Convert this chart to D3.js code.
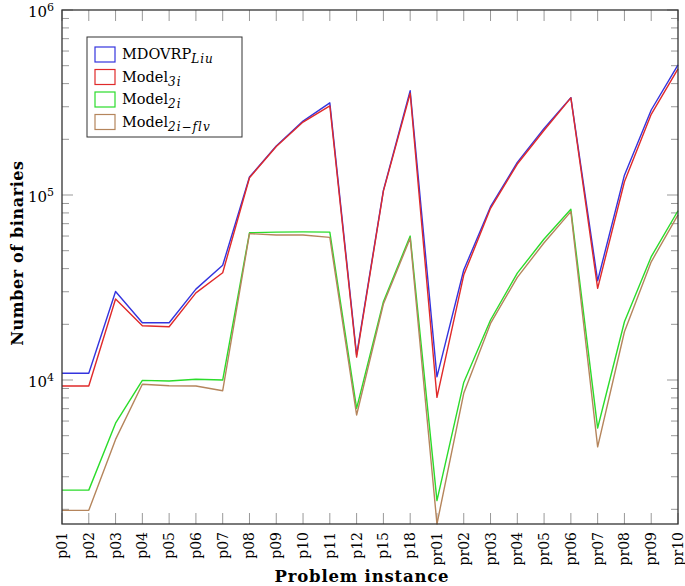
<!DOCTYPE html>
<meta charset="utf-8">
<html>
<head>
<title>Number of binaries</title>
<style>
  body { margin: 0; background: #fff; }
  text { font-family: 'DejaVu Serif', serif; fill: #000; }
  .tick line { stroke: #999; }
</style>
</head>
<body>
<div id="chart"></div>
<script src="https://cdn.jsdelivr.net/npm/d3@7"></script>
<script>

var instances = ["p01","p02","p03","p04","p05","p06","p07","p08","p09","p10","p11",
                 "p12","p15","p18","pr01","pr02","pr03","pr04","pr05","pr06","pr07","pr08","pr09","pr10"];

var mdovrpLiu = [10870,10870,30100,20400,20400,31000,41700,125000,184000,251000,315000,
                 13650,106000,366000,10400,39300,86500,150000,229000,336000,34400,128000,288000,505000];
var model3i   = [9280,9280,27400,19650,19400,29600,38000,124000,183000,248000,303000,
                 13300,105000,355000,8060,36900,84700,147000,224000,335000,31300,118000,273000,480000];
var model2i   = [2540,2540,5840,9960,9880,10090,10000,62500,63000,63200,63000,
                 7030,26500,60000,2230,9700,21100,37800,57800,83700,5500,20650,46400,82200];
var model2iFlv= [1975,1975,4775,9480,9315,9280,8750,61800,60800,60800,59000,
                 6470,25750,58400,1666,8470,20230,35900,55200,81300,4350,18230,43550,78000];

var seriesNames = ["MDOVRP", "Model", "Model", "Model"];
var seriesSubs  = ["Liu", "3i", "2i", "2i\u2212flv"];
var colors = ["#3434de", "#e02a2a", "#2bdc2b", "#b5855c"];

var width = 685, height = 586;
var margin = {left: 62, right: 7, top: 10, bottom: 62};

var svg = d3.select("#chart").append("svg")
    .attr("width", width)
    .attr("height", height);

var x = d3.scalePoint()
    .domain(instances)
    .range([margin.left, width - margin.right]);

var y = d3.scaleLog()
    .domain([1666, 1e6])
    .range([height - margin.bottom, margin.top]);

var x0 = margin.left, x1 = width - margin.right;
var y0 = height - margin.bottom, y1 = margin.top;

// ticks on all four sides, pointing inward
var majors = [1e4, 1e5, 1e6];
var minors = [];
[1e3, 1e4, 1e5].forEach(function (d) {
  for (var k = 2; k <= 9; k++) if (d * k >= 1666) minors.push(d * k);
});

var ticks = svg.append("g").attr("class", "tick");
ticks.selectAll(".xb").data(instances).enter().append("line")
    .attr("x1", function (d) { return x(d); }).attr("x2", function (d) { return x(d); })
    .attr("y1", y0).attr("y2", y0 - 11);
ticks.selectAll(".xt").data(instances).enter().append("line")
    .attr("x1", function (d) { return x(d); }).attr("x2", function (d) { return x(d); })
    .attr("y1", y1).attr("y2", y1 + 11);
ticks.selectAll(".yl").data(majors).enter().append("line")
    .attr("x1", x0).attr("x2", x0 + 11)
    .attr("y1", function (d) { return y(d); }).attr("y2", function (d) { return y(d); });
ticks.selectAll(".yr").data(majors).enter().append("line")
    .attr("x1", x1).attr("x2", x1 - 11)
    .attr("y1", function (d) { return y(d); }).attr("y2", function (d) { return y(d); });
ticks.selectAll(".ml").data(minors).enter().append("line")
    .attr("x1", x0).attr("x2", x0 + 7)
    .attr("y1", function (d) { return y(d); }).attr("y2", function (d) { return y(d); });
ticks.selectAll(".mr").data(minors).enter().append("line")
    .attr("x1", x1).attr("x2", x1 - 7)
    .attr("y1", function (d) { return y(d); }).attr("y2", function (d) { return y(d); });

// x tick labels, rotated
svg.selectAll(".xlab").data(instances).enter().append("text")
    .attr("transform", function (d) { return "translate(" + (x(d) + 5) + "," + (y0 + 8) + ") rotate(-90)"; })
    .attr("text-anchor", "end")
    .style("font-size", "14px")
    .text(function (d) { return d; });

// y tick labels 10^n
var ylab = svg.selectAll(".ylab").data(majors).enter().append("text")
    .attr("x", x0 - 8)
    .attr("y", function (d) { return y(d) + 7; })
    .attr("text-anchor", "end")
    .style("font-size", "15px");
ylab.append("tspan").text("10");
ylab.append("tspan")
    .attr("dy", -6)
    .style("font-size", "11px")
    .text(function (d) { return Math.round(Math.log10(d)); });

// lines
var line = d3.line()
    .x(function (d, i) { return x(instances[i]); })
    .y(function (d) { return y(d); });

var allSeries = [mdovrpLiu, model3i, model2i, model2iFlv];
svg.selectAll(".series").data(allSeries).enter().append("path")
    .attr("fill", "none")
    .attr("stroke", function (d, i) { return colors[i]; })
    .attr("stroke-width", 1.4)
    .attr("stroke-linejoin", "round")
    .attr("d", line);

// frame
svg.append("rect")
    .attr("x", x0).attr("y", y1)
    .attr("width", x1 - x0).attr("height", y0 - y1)
    .attr("fill", "none")
    .attr("stroke", "#333")
    .attr("stroke-width", 1.3);

// legend
var legend = svg.append("g").attr("transform", "translate(87,37)");
legend.append("rect")
    .attr("width", 155).attr("height", 100)
    .attr("fill", "#fff").attr("stroke", "#333").attr("stroke-width", 1);
var items = legend.selectAll(".item").data(seriesNames).enter().append("g")
    .attr("transform", function (d, i) { return "translate(8," + (10 + i * 22.5) + ")"; });
items.append("rect")
    .attr("width", 20).attr("height", 15)
    .attr("fill", "none")
    .attr("stroke", function (d, i) { return colors[i]; })
    .attr("stroke-width", 1.2);
var ltxt = items.append("text")
    .attr("x", 27).attr("y", 12)
    .style("font-size", "14.5px");
ltxt.append("tspan").text(function (d) { return d; });
ltxt.append("tspan")
    .attr("dy", 4)
    .style("font-size", "12px")
    .style("font-style", "italic")
    .style("letter-spacing", "1px")
    .text(function (d, i) { return seriesSubs[i]; });

// axis titles
svg.append("text")
    .attr("x", (x0 + x1) / 2 - 8)
    .attr("y", 582)
    .attr("text-anchor", "middle")
    .style("font-size", "16.5px")
    .style("font-weight", "bold")
    .style("letter-spacing", "0.8px")
    .text("Problem instance");

svg.append("text")
    .attr("transform", "translate(23," + ((y0 + y1) / 2 - 14) + ") rotate(-90)")
    .attr("text-anchor", "middle")
    .style("font-size", "16px")
    .style("font-weight", "bold")
    .style("letter-spacing", "0.6px")
    .text("Number of binaries");

</script>
</body>
</html>
